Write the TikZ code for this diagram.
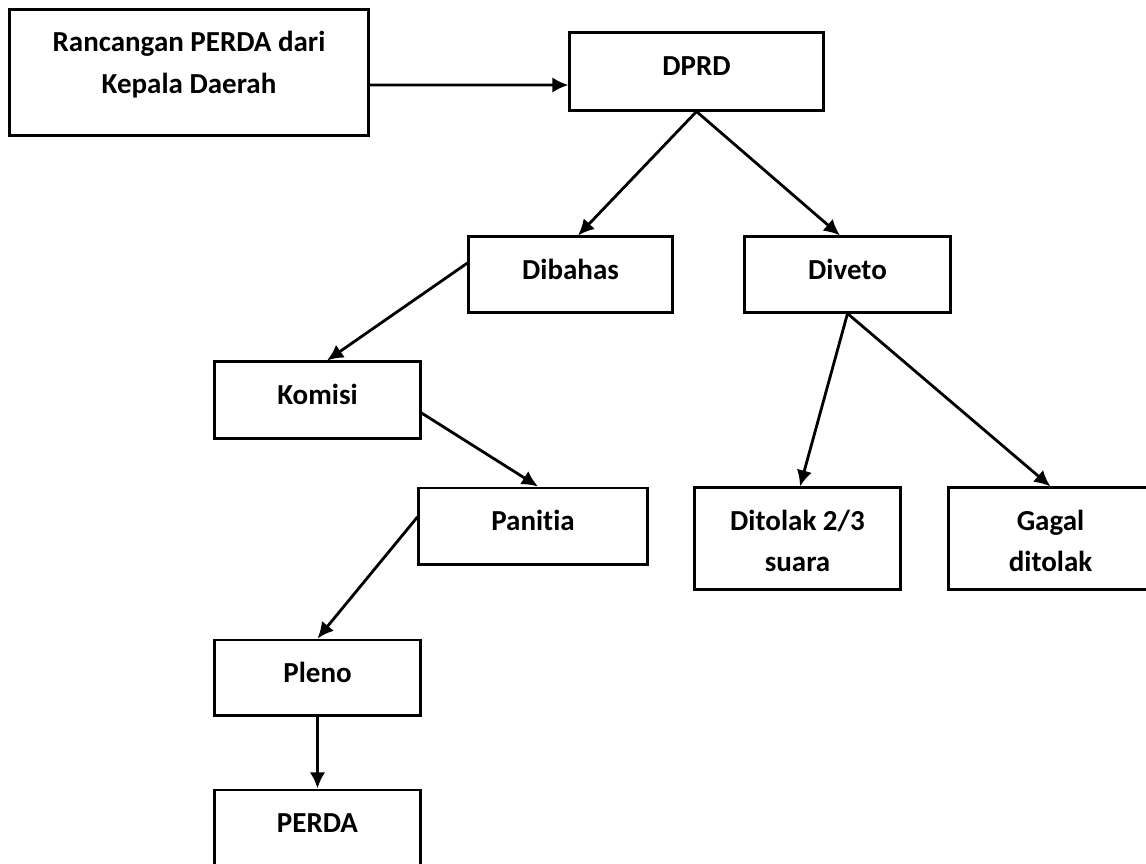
\documentclass[tikz,border=0pt]{standalone}
\usepackage{fontspec}
\setmainfont{Carlito}[Ligatures=NoCommon]
\usetikzlibrary{arrows.meta}
\tikzset{
  kotak/.style={draw,line width=.85pt,inner xsep=0pt,inner ysep=0pt,text width=#1,align=flush center,text height=.42cm,
    font=\fontsize{8.25}{11.7}\selectfont\bfseries},
  panah/.style={->,line width=.8pt}
}
\begin{document}
\begin{tikzpicture}[>={Latex[length=4.6pt,width=4.4pt]},x=0.01cm,y=-0.01cm]
		\clip (0,0) rectangle (1146,863);
		% kotak-kotak
		\node[kotak=3.58cm,text depth=.83cm] (ranc) at (189,72.5) {Rancangan PERDA dari\\Kepala Daerah};
		\node[kotak=2.53cm,text depth=.35cm] (dprd) at (696.5,71.5) {DPRD};
		\node[kotak=2.03cm,text depth=.33cm] (dibahas) at (570.5,274.5) {Dibahas};
		\node[kotak=2.05cm,text depth=.33cm] (diveto) at (847.5,274.5) {Diveto};
		\node[kotak=2.05cm,text depth=.34cm] (komisi) at (317.5,400) {Komisi};
		\node[kotak=2.28cm,text depth=.34cm] (panitia) at (533,526) {Panitia};
		\node[kotak=2.05cm,text depth=.59cm] (ditolak) at (797.5,538.5) {Ditolak 2/3\\suara};
		\node[kotak=2.03cm,text depth=.59cm] (gagal) at (1050.5,538.5) {Gagal\\ditolak};
		\node[kotak=2.05cm,text depth=.33cm] (pleno) at (317.5,677.5) {Pleno};
		\node[kotak=2.05cm,text depth=.34cm] (perda) at (317.5,828) {PERDA};
		% panah
		\draw[panah] ([yshift=-.125cm]ranc.east) -- ([yshift=-.135cm]dprd.west);
		\draw[panah] (dprd.south) -- ([xshift=.075cm]dibahas.north);
		\draw[panah] (dprd.south) -- ([xshift=-.075cm]diveto.north);
		\draw[panah] ([yshift=.115cm]dibahas.west) -- ([xshift=.095cm]komisi.north);
		\draw[panah] ([yshift=-.13cm]komisi.east) -- ([xshift=.05cm]panitia.north);
		\draw[panah] ([yshift=.09cm]panitia.west) -- (pleno.north);
		\draw[panah] (pleno.south) -- (perda.north);
		\draw[panah] (diveto.south) -- ([xshift=.025cm]ditolak.north);
		\draw[panah] (diveto.south) -- (gagal.north);
	\end{tikzpicture}
\end{document}
